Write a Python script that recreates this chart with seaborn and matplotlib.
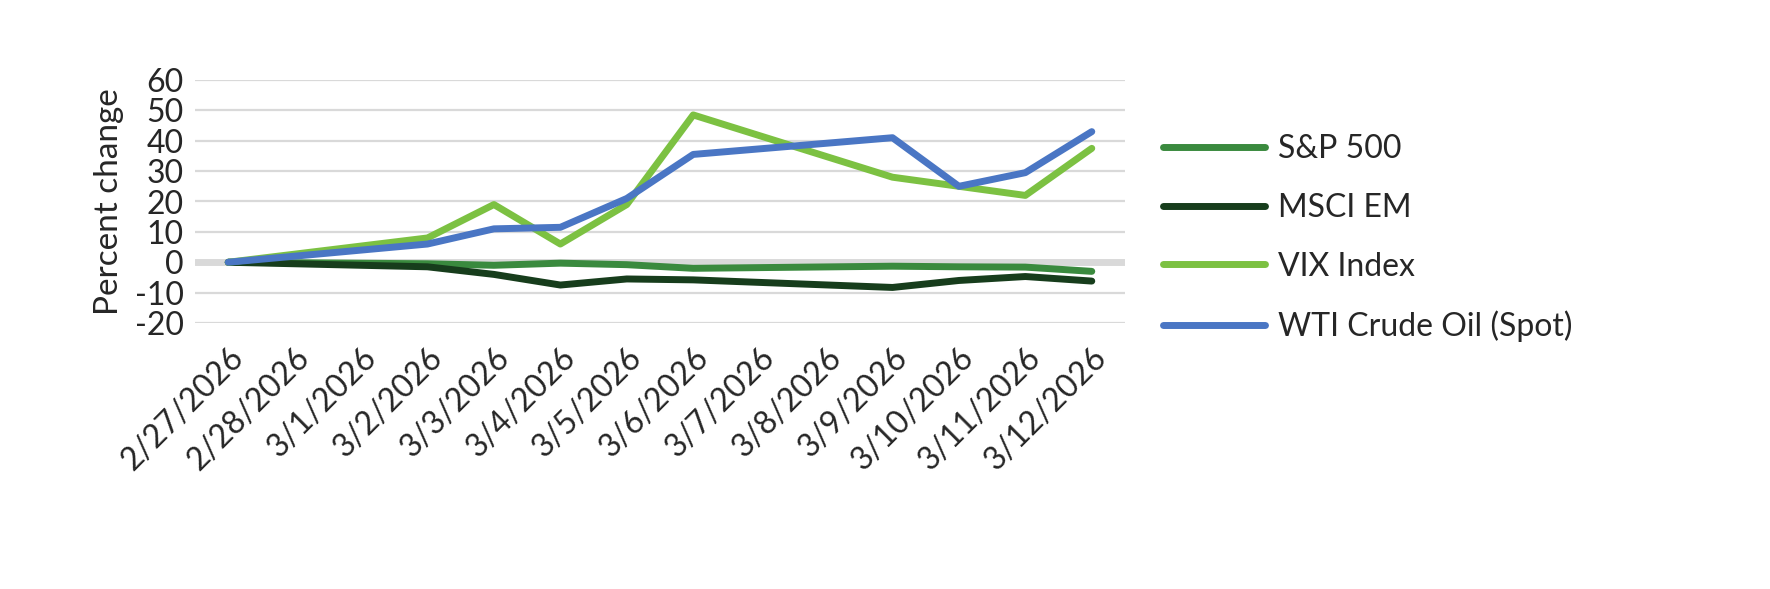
import matplotlib
matplotlib.use("Agg")
import matplotlib.pyplot as plt
import seaborn as sns
import numpy as np
import pandas as pd

dates = ["2/27/2026", "2/28/2026", "3/1/2026", "3/2/2026", "3/3/2026", "3/4/2026", "3/5/2026",
         "3/6/2026", "3/7/2026", "3/8/2026", "3/9/2026", "3/10/2026", "3/11/2026", "3/12/2026"]
nan = np.nan
sp500 = [0, nan, nan, -0.5, -1.0, -0.3, -0.8, -2.0, nan, nan, -1.3, -1.5, -1.6, -3.0]
msci_em = [0, nan, nan, -1.5, -4.0, -7.5, -5.5, -5.8, nan, nan, -8.3, -6.0, -4.7, -6.2]
vix = [0, nan, nan, 8.0, 19.0, 6.0, 19.0, 48.5, nan, nan, 28.0, 25.0, 22.0, 37.5]
wti = [0, nan, nan, 6.0, 11.0, 11.5, 21.0, 35.5, nan, nan, 41.0, 25.0, 29.5, 43.0]

series = {
    "S&P 500": (sp500, "#3a8a3e"),
    "MSCI EM": (msci_em, "#173d1c"),
    "VIX Index": (vix, "#7cc142"),
    "WTI Crude Oil (Spot)": (wti, "#4a76c4"),
}

sns.set_theme(style="white")
plt.rcParams["font.family"] = ["Lato", "DejaVu Sans"]
plt.rcParams["axes.unicode_minus"] = False

fig = plt.figure(figsize=(17.7, 5.89), dpi=100)
ax = fig.add_axes([195 / 1770, 1 - 323 / 589, 930 / 1770, 243 / 589])

for yv in range(-20, 61, 10):
    ax.axhline(yv, color="#d9d9d9", lw=1.6 if yv else 5, zorder=0)

for name, (vals, color) in series.items():
    df = pd.DataFrame({"x": np.arange(len(dates)), "y": vals}).dropna()
    sns.lineplot(data=df, x="x", y="y", ax=ax, color=color, lw=5, label=name)

ax.set_xlim(-0.5, len(dates) - 0.5)
ax.set_ylim(-20, 60)
ax.set_yticks(range(-20, 61, 10))
ax.set_xticks(np.arange(len(dates)))
ax.set_xticklabels(dates, rotation=45, ha="right", rotation_mode="anchor", fontsize=23)
ax.tick_params(axis="y", labelsize=23, pad=2)
ax.tick_params(axis="x", pad=8)
ax.set_xlabel("")
ax.set_ylabel("Percent change", fontsize=24, labelpad=8)
for s in ax.spines.values():
    s.set_visible(False)

ax.legend(loc="center left", bbox_to_anchor=(1.01, 0.35), frameon=False, fontsize=23,
          handlelength=3.2, labelspacing=0.9, handletextpad=0.4)

fig.savefig("out.png", dpi=100)
